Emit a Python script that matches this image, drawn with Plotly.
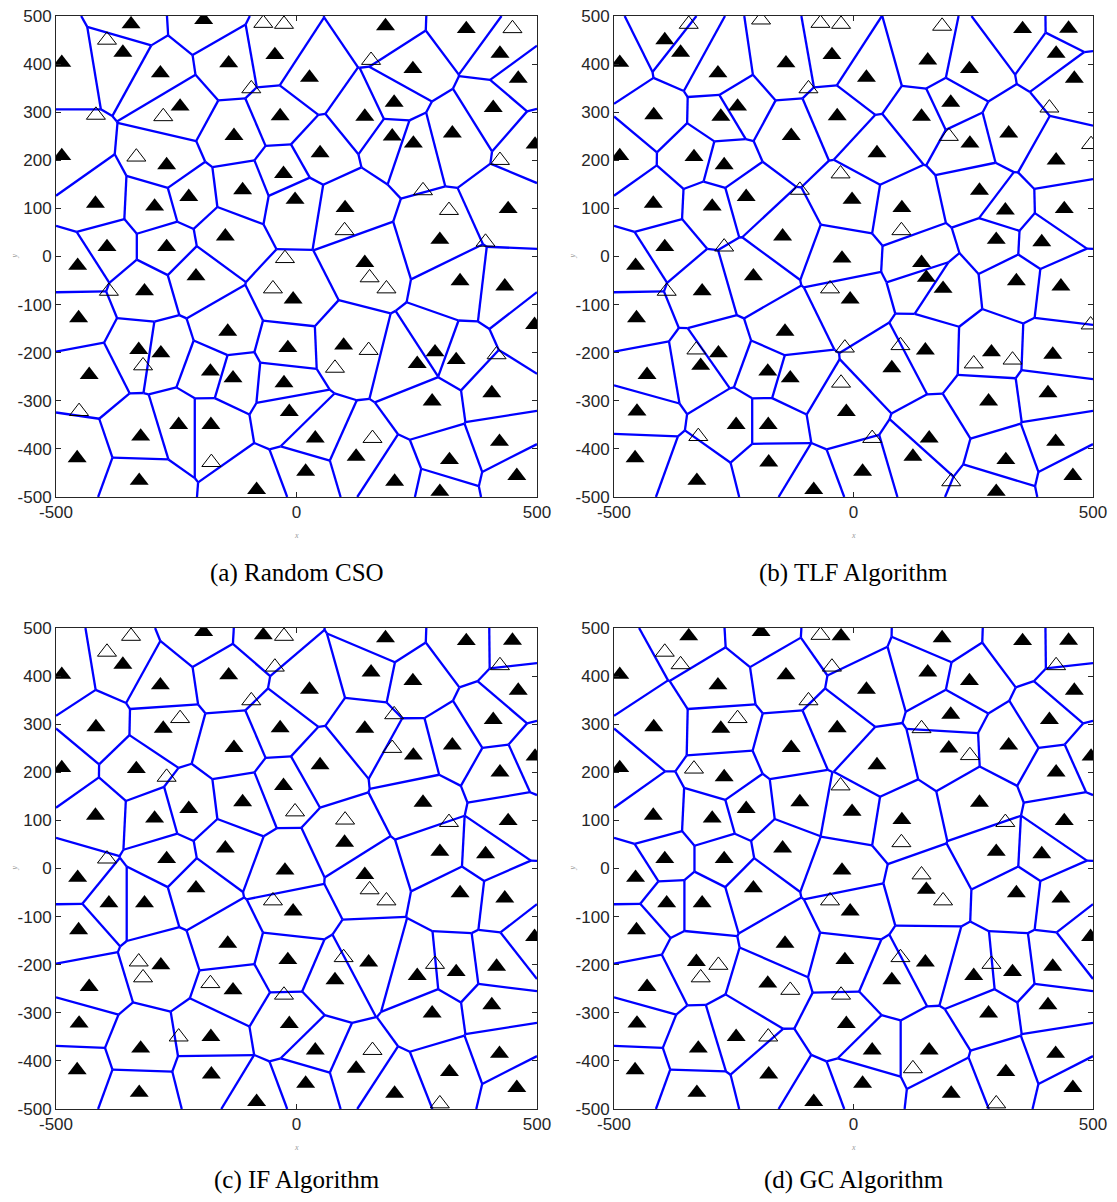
import numpy as np
import plotly.graph_objects as go

# ---------------- data ----------------
# common set of node positions (node id = index + 1)
node_x = [-344, -193, -488, -361, -283, -141, -45, -242, -130, -34,
          -488, -270, -27, -112, -224, -418, -295, -3, -394, -270,
          -148, -455, -209, -316, -7, -453, -143, -328, -282, -18,
          -431, -179, -132, -26, -15, -245, -178, -324, -456, -327,
          -83, 185, 353, 27, 242, 423, 461, 203, 142, 409,
          199, 243, 324, 496, 49, 101, 440, 298, 142, 340,
          433, 495, 98, 288, 251, 332, 406, 282, 39, 124,
          422, 318, 19, 204, 458, 298, -394, -69, -26, -417,
          -277, -94, -333, -24, -390, -49, -319, -452, -177, 449,
          155, 423, 263, 317, 100, 393, 152, 187, 150, 80,
          416, 158]
node_y = [483, 492, 403, 424, 381, 402, 419, 312, 251, 292,
          209, 190, 172, 138, 124, 110, 104, 118, 20, 20,
          42, -19, -41, -72, -89, -128, -156, -194, -201, -190,
          -246, -239, -253, -263, -323, -350, -350, -374, -419, -466,
          -485, 479, 473, 372, 390, 422, 370, 320, 291, 309,
          250, 235, 256, 233, 215, 101, 99, 35, -13, -51,
          -62, -142, -185, -199, -223, -215, -284, -301, -378, -416,
          -385, -423, -447, -468, -456, -489, 450, 485, 483, 294,
          291, 349, 207, -4, -72, -67, -227, -322, -428, 474,
          408, 200, 137, 96, 54, 30, -44, -67, -195, -232,
          -204, -378]

# ids of sleeping (hollow) nodes in each panel
sleep_a = list(range(77, 103))
sleep_b = [1, 2, 13, 14, 20, 28, 30, 34, 38, 42, 50, 51, 54, 62, 63, 65, 66,
           69, 74, 78, 79, 82, 85, 86, 95]
sleep_c = [1, 7, 8, 12, 18, 19, 28, 32, 34, 36, 77, 79, 82, 86, 87,
           46, 48, 51, 56, 63, 64, 76, 94, 97, 98, 102]
sleep_d = [4, 7, 8, 13, 29, 33, 34, 37, 77, 78, 82, 83, 86, 87,
           46, 49, 52, 59, 63, 64, 70, 76, 94, 95, 98]

captions = ["(a) Random CSO", "(b) TLF Algorithm", "(c) IF Algorithm", "(d) GC Algorithm"]
sleep_sets = [sleep_a, sleep_b, sleep_c, sleep_d]
x_ticks = [-500, 0, 500]
y_ticks = list(range(-500, 501, 100))
LO, HI = -500, 500


def voronoi_edges(px, py, lo=LO, hi=HI):
    P = np.column_stack([px, py]).astype(float)
    n = len(P)
    sq = (P ** 2).sum(1)
    xs, ys = [], []
    for i in range(n):
        for j in range(i + 1, n):
            m = (P[i] + P[j]) / 2
            d = P[j] - P[i]
            u = np.array([-d[1], d[0]]) / np.hypot(d[0], d[1])
            tmin, tmax = -1e12, 1e12
            ok = True
            for a in range(2):
                if abs(u[a]) > 1e-12:
                    t1 = (lo - m[a]) / u[a]
                    t2 = (hi - m[a]) / u[a]
                    tmin = max(tmin, min(t1, t2))
                    tmax = min(tmax, max(t1, t2))
                elif m[a] < lo or m[a] > hi:
                    ok = False
            if not ok or tmax <= tmin:
                continue
            mask = np.ones(n, bool)
            mask[[i, j]] = False
            V = P[mask] - P[i]
            c = sq[mask] - sq[i]
            A = 2 * (V @ u)
            B = c - 2 * (V @ m)
            pos = A > 1e-12
            neg = A < -1e-12
            zero = ~(pos | neg)
            if np.any(zero & (B < 0)):
                continue
            if pos.any():
                tmax = min(tmax, (B[pos] / A[pos]).min())
            if neg.any():
                tmin = max(tmin, (B[neg] / A[neg]).max())
            if tmax - tmin > 1e-7:
                p0 = m + tmin * u
                p1 = m + tmax * u
                xs += [p0[0], p1[0], None]
                ys += [p0[1], p1[1], None]
    return xs, ys


W, H = 1117, 1202
# plot areas in pixels (left, right, top, bottom) and caption centre y
areas = [(56, 537, 16, 497), (614, 1093, 16, 497),
         (56, 537, 628, 1109), (614, 1093, 628, 1109)]
caption_y = [573, 573, 1180, 1180]

fig = go.Figure()
layout = dict(width=W, height=H, margin=dict(l=0, r=0, t=0, b=0, autoexpand=False),
              paper_bgcolor="white", plot_bgcolor="white", showlegend=False,
              annotations=[])

tick_font = dict(family="Liberation Sans Narrow, Arial Narrow, Liberation Sans, Arial",
                 size=17, color="#262626")

nx = np.array(node_x, float)
ny = np.array(node_y, float)
ids = np.arange(1, len(nx) + 1)

for k in range(4):
    sfx = "" if k == 0 else str(k + 1)
    xa, ya = "x" + sfx, "y" + sfx
    sleeping = np.isin(ids, sleep_sets[k])
    ax_x, ax_y = nx[~sleeping], ny[~sleeping]
    sx, sy = nx[sleeping], ny[sleeping]
    lx, ly = voronoi_edges(ax_x, ax_y)
    fig.add_trace(go.Scatter(x=lx, y=ly, mode="lines", xaxis=xa, yaxis=ya,
                             line=dict(color="#0000ff", width=2.3), hoverinfo="skip"))
    fig.add_trace(go.Scatter(x=ax_x, y=ax_y, mode="markers", xaxis=xa, yaxis=ya,
                             marker=dict(symbol="triangle-up", size=16.5, color="black",
                                         line=dict(width=0))))
    fig.add_trace(go.Scatter(x=sx, y=sy, mode="markers", xaxis=xa, yaxis=ya,
                             marker=dict(symbol="triangle-up-open", size=16.5, color="black",
                                         line=dict(width=1, color="black"))))
    l, r, t, b = areas[k]
    common = dict(showline=True, linecolor="#262626", linewidth=1, mirror="ticks",
                  ticks="inside", ticklen=5, tickcolor="#262626", showgrid=False,
                  zeroline=False, tickfont=tick_font, fixedrange=True, automargin=False)
    layout["xaxis" + sfx] = dict(domain=[l / W, r / W], range=[LO, HI],
                                 tickvals=x_ticks, ticktext=[str(v) for v in x_ticks],
                                 anchor=ya, **common)
    layout["yaxis" + sfx] = dict(domain=[1 - b / H, 1 - t / H], range=[LO, HI],
                                 tickvals=y_ticks, ticktext=[str(v) for v in y_ticks],
                                 anchor=xa, **common)
    cx = (l + r) / 2
    cy = (t + b) / 2
    layout["annotations"].append(dict(
        text=captions[k], x=cx / W, y=1 - caption_y[k] / H, xref="paper", yref="paper",
        showarrow=False, xanchor="center", yanchor="middle",
        font=dict(family="Liberation Serif, Times New Roman, serif", size=25, color="black")))
    layout["annotations"].append(dict(
        text="<i>x</i>", x=cx / W, y=1 - (b + 38) / H, xref="paper", yref="paper",
        showarrow=False, xanchor="center", yanchor="middle",
        font=dict(family="Liberation Serif, serif", size=8, color="#999999")))
    layout["annotations"].append(dict(
        text="<i>y</i>", x=(l - 42) / W, y=1 - cy / H, xref="paper", yref="paper",
        showarrow=False, xanchor="center", yanchor="middle", textangle=-90,
        font=dict(family="Liberation Serif, serif", size=8, color="#999999")))

fig.update_layout(**layout)
fig.write_html("out.html")
